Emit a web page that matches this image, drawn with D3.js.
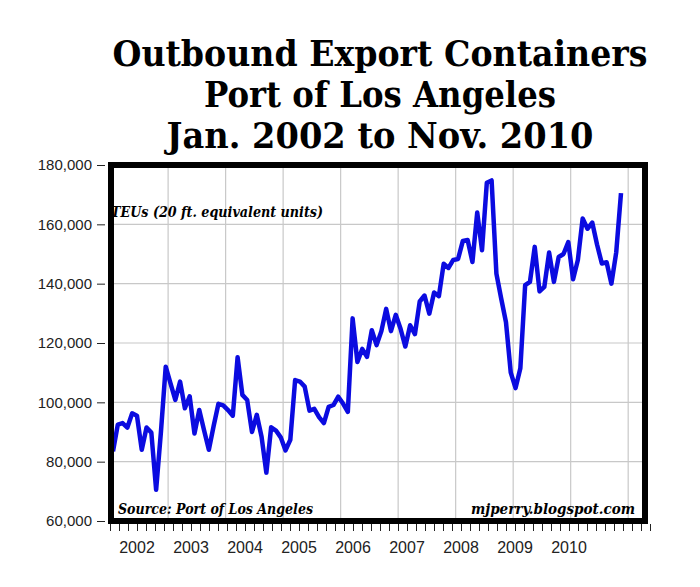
<!DOCTYPE html>
<html>
<head>
<meta charset="utf-8">
<script src="https://cdn.jsdelivr.net/npm/d3@7"></script>
<style>
  body { margin: 0; background: #fff; }
  svg { display: block; }
  .axis text { font-family: 'Liberation Sans', Arial, sans-serif; fill: #222; }
  .axis line { stroke: #222; }
</style>
</head>
<body>
<svg id="chart"></svg>
<script>
// Outbound export TEUs, monthly, Jan. 2002 - Nov. 2010
const teus = [
  83500, 92500, 93000, 91500, 96300, 95500, 84000, 91500, 89800, 70500, 90000, 112000,
  106400, 100800, 107000, 98000, 102000, 89500, 97400, 90600, 84000, 92000, 99500, 99000,
  97400, 95500, 115200, 102500, 100800, 90000, 95800, 88400, 76300, 91600, 90500, 88200,
  83800, 87400, 107500, 107000, 105300, 97200, 97800, 95000, 93000, 98500, 99100, 101900,
  99600, 96800, 128300, 113600, 118000, 115300, 124300, 119300, 124000, 131500, 124000, 129500,
  124800, 118800, 126000, 123000, 134000, 136000, 129900, 137000, 135800, 146700, 145300, 148000,
  148300, 154400, 154700, 147300, 164000, 151300, 174000, 174800, 143400, 135000, 127000, 110000,
  104800, 111500, 139500, 140600, 152400, 137400, 138900, 150500, 140600, 149000, 150000, 154000,
  141500, 148000, 162000, 158500, 160600, 153200, 146800, 147200, 140000, 150500, 170500
];

const years = ['2002', '2003', '2004', '2005', '2006', '2007', '2008', '2009', '2010'];
const yTicks = [60000, 80000, 100000, 120000, 140000, 160000, 180000];

const titleLines = [
  'Outbound Export Containers',
  'Port of Los Angeles',
  'Jan. 2002 to Nov. 2010'
];

document.addEventListener('DOMContentLoaded', function () {
  const width = 700;
  const height = 587;

  const svg = d3.select('#chart').attr('width', width).attr('height', height);

  // Scales (x = month index from Jan. 2002)
  const x = d3.scaleLinear().domain([0, teus.length - 1]).range([113, 621]);
  const y = d3.scaleLinear().domain([60000, 180000]).range([521, 165]);
  // the year axis under the frame runs on its own (slightly tighter) spacing
  const yearX = d3.scaleLinear().domain([0, 10]).range([110, 650]);

  const frameLeft = 111;
  const frameRight = 645;

  // Title
  const titleWidths = [535, 352, 427];
  svg
    .selectAll('.title')
    .data(titleLines)
    .enter()
    .append('text')
    .attr('class', 'title')
    .attr('x', 380)
    .attr('y', (d, i) => 66 + i * 41)
    .attr('text-anchor', 'middle')
    .attr('textLength', (d, i) => titleWidths[i])
    .attr('lengthAdjust', 'spacingAndGlyphs')
    .style('font-family', "'DejaVu Serif', Georgia, serif")
    .style('font-weight', 'bold')
    .style('font-size', '35px')
    .text((d) => d);

  // Grid lines
  svg
    .selectAll('.hgrid')
    .data(yTicks.slice(1, -1))
    .enter()
    .append('line')
    .attr('x1', frameLeft)
    .attr('x2', frameRight)
    .attr('y1', (d) => y(d))
    .attr('y2', (d) => y(d))
    .attr('stroke', '#c8c8c8')
    .attr('stroke-width', 1.2);

  const yearBounds = d3.range(1, years.length + 1).map((k) => k * 12 - 0.5);
  svg
    .selectAll('.vgrid')
    .data(yearBounds)
    .enter()
    .append('line')
    .attr('x1', (d) => x(d))
    .attr('x2', (d) => x(d))
    .attr('y1', y(180000))
    .attr('y2', y(60000))
    .attr('stroke', '#c8c8c8')
    .attr('stroke-width', 1.2);

  // Data line
  const line = d3
    .line()
    .x((d, i) => x(i))
    .y((d) => y(d));

  svg
    .append('path')
    .datum(teus)
    .attr('d', line)
    .attr('fill', 'none')
    .attr('stroke', '#0b0be0')
    .attr('stroke-width', 4.5)
    .attr('stroke-linejoin', 'round');

  // Frame
  svg
    .append('rect')
    .attr('x', frameLeft)
    .attr('y', y(180000))
    .attr('width', frameRight - frameLeft)
    .attr('height', y(60000) - y(180000))
    .attr('fill', 'none')
    .attr('stroke', '#000')
    .attr('stroke-width', 6);

  // Y axis
  const yAxis = svg
    .append('g')
    .attr('class', 'axis')
    .attr('transform', 'translate(105,0)')
    .call(
      d3
        .axisLeft(y)
        .tickValues(yTicks)
        .tickSize(8)
        .tickPadding(5)
        .tickFormat(d3.format(','))
    );
  yAxis.select('.domain').remove();
  yAxis.selectAll('text').style('font-size', '15px');

  // X axis: bimonthly ticks, year labels centred in each year
  const xAxis = svg
    .append('g')
    .attr('class', 'axis')
    .attr('transform', 'translate(0,524)')
    .call(
      d3
        .axisBottom(yearX)
        .tickValues(d3.range(0, 10.01, 1 / 6))
        .tickSize(7)
        .tickFormat('')
    );
  xAxis.select('.domain').remove();

  svg
    .selectAll('.year')
    .data(years)
    .enter()
    .append('text')
    .attr('class', 'axis')
    .attr('x', (d, i) => yearX(i + 0.5))
    .attr('y', 553)
    .attr('text-anchor', 'middle')
    .style('font-family', "'Liberation Sans', Arial, sans-serif")
    .style('font-size', '16px')
    .style('fill', '#222')
    .text((d) => d);

  // Notes inside the plot
  const notes = [
    { text: 'TEUs (20 ft. equivalent units)', x: 111, y: 217, w: 212 },
    { text: 'Source: Port of Los Angeles', x: 118, y: 514, w: 195 },
    { text: 'mjperry.blogspot.com', x: 471, y: 514, w: 164 }
  ];
  svg
    .selectAll('.note')
    .data(notes)
    .enter()
    .append('text')
    .attr('class', 'note')
    .attr('x', (d) => d.x)
    .attr('y', (d) => d.y)
    .attr('textLength', (d) => d.w)
    .attr('lengthAdjust', 'spacingAndGlyphs')
    .style('font-family', "'DejaVu Serif', Georgia, serif")
    .style('font-weight', 'bold')
    .style('font-style', 'italic')
    .style('font-size', '14px')
    .text((d) => d.text);
});
</script>
</body>
</html>
